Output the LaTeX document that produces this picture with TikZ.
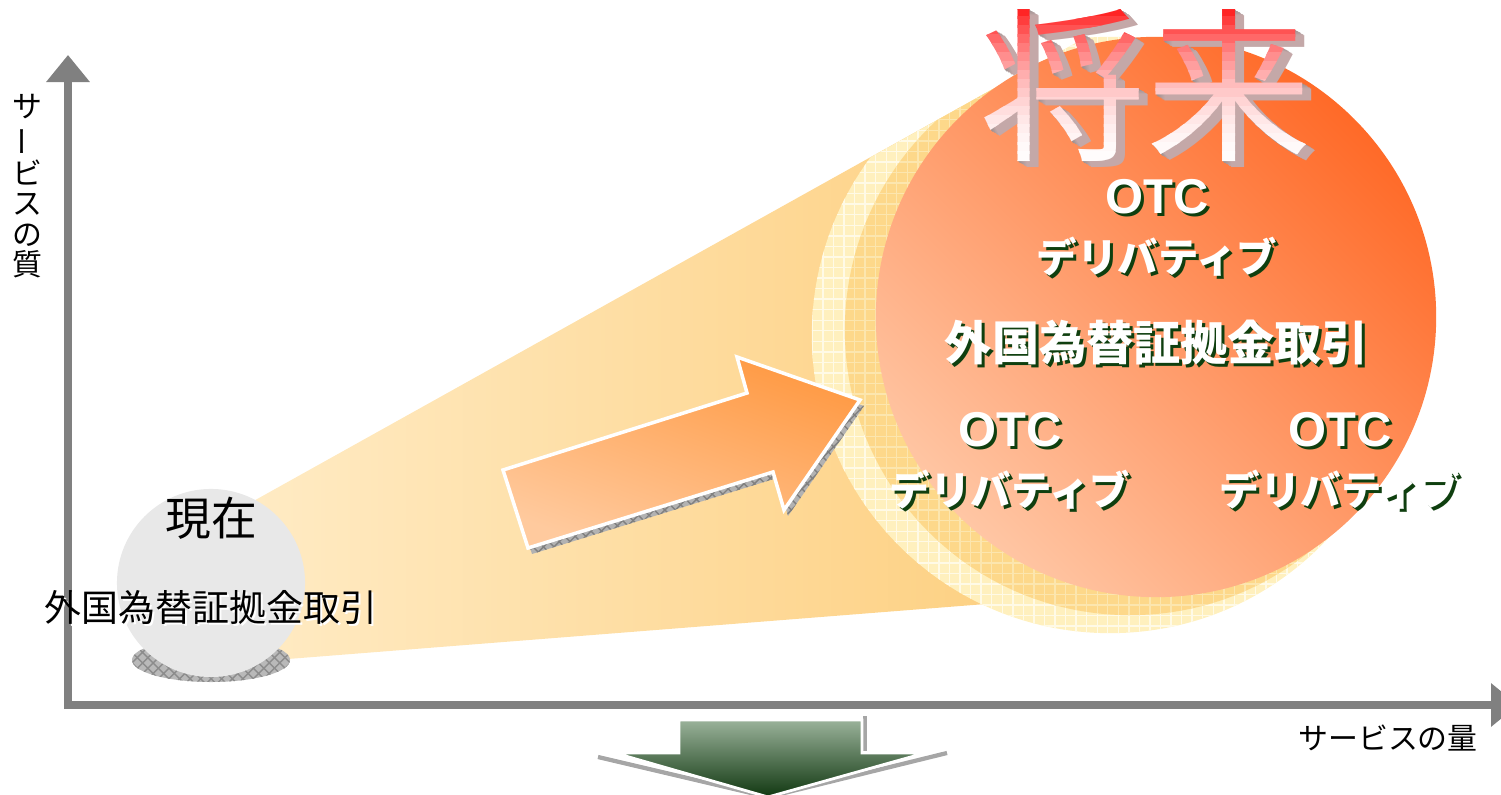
\documentclass[tikz,border=0pt]{standalone}
\usepackage{fontspec}
\usepackage{graphicx}
\setmainfont{Liberation Sans}
\newfontfamily\jp{Noto Sans CJK JP}
\usetikzlibrary{arrows.meta,patterns}
\definecolor{axisgray}{HTML}{808080}
\definecolor{fanleft}{HTML}{FFEBC4}
\definecolor{fanright}{HTML}{FDCD7A}
\definecolor{paleyellow}{HTML}{FFF0BE}
\definecolor{palegrid}{HTML}{FFFAE6}
\definecolor{ringyellow}{HTML}{FDD88A}
\definecolor{ringgrid}{HTML}{FCE6AE}
\definecolor{sunlight}{HTML}{FFC6A4}
\definecolor{sundark}{HTML}{FF6A28}
\definecolor{arrowlight}{HTML}{FFCA9E}
\definecolor{arrowdark}{HTML}{FF9A44}
\definecolor{leaftop}{HTML}{9AB29A}
\definecolor{leafbottom}{HTML}{113811}
\definecolor{rimgreen}{HTML}{0F3F0F}
\definecolor{extrude}{HTML}{C9ABAB}
\definecolor{nowgray}{HTML}{E8E8E8}

% white text with a dark rim, or black text with a white one
\newcommand{\rimtext}[4]{%
  \node[#3, rim #3] at (#2) {#4};
  \node[#3] (#1) at (#2) {#4};}

\begin{document}
\begin{tikzpicture}[x=0.01cm, y=-0.01cm,
  axis/.style={draw=axisgray, line width=2.3pt, -{Triangle[length=0.27cm,width=0.42cm]}},
  axislabel/.style={font=\jp\fontsize{8.5}{8.65}\selectfont, inner sep=0},
  otc/.style={font=\fontsize{13.9}{14}\selectfont\bfseries, text=white, inner sep=0},
  kata/.style={font=\jp\fontsize{11.5}{12}\selectfont\bfseries, text=white, inner sep=0},
  fxbig/.style={font=\jp\fontsize{13.4}{14}\selectfont\bfseries, text=white, inner sep=0},
  fxsmall/.style={font=\jp\fontsize{10.5}{11}\selectfont, text=black, inner sep=0},
  rim otc/.style={text=rimgreen, shift={(3,3)}},
  rim kata/.style={text=rimgreen, shift={(3,3)}},
  rim fxbig/.style={text=rimgreen, shift={(3,3)}},
  rim fxsmall/.style={text=white, shift={(2,2)}},
  future/.style={font=\jp\fontsize{47}{48}\selectfont, inner sep=0}]
\useasboundingbox (0,0) rectangle (1501,795);

% fan from now to the future
\shade[left color=fanleft, right color=fanright]
  (250,503) -- (1000,85) -- (1100,595) -- (250,662) -- cycle;

% rings behind the big circle, only below the fan's upper edge
\begin{scope}
  \clip (250,503) -- (1203,-28) -- (1501,-28) -- (1501,795) -- (250,795) -- cycle;
  \fill[paleyellow] (1110,335) circle[radius=2.98cm];
  \fill[pattern=grid, pattern color=palegrid] (1110,335) circle[radius=2.98cm];
  \fill[ringyellow] (1130,330) circle[radius=2.85cm];
  \fill[pattern=grid, pattern color=ringgrid] (1130,330) circle[radius=2.85cm];
\end{scope}
\shade[top color=sundark, bottom color=sunlight, shading angle=-45]
  (1156,317) circle[radius=2.8cm];

% today
\fill[gray!55] (211,660) ellipse[x radius=0.79cm, y radius=0.22cm];
\fill[pattern=crosshatch, pattern color=gray!90] (211,660) ellipse[x radius=0.79cm, y radius=0.22cm];
\fill[nowgray] (211,583) circle[radius=0.94cm];

% growth arrow
\fill[gray!60] (507,476) -- (532,554) -- (777,478) -- (788,516) -- (864,406)
  -- (741,363) -- (751,399) -- cycle;
\fill[pattern=crosshatch, pattern color=gray] (507,476) -- (532,554) -- (777,478)
  -- (788,516) -- (864,406) -- (741,363) -- (751,399) -- cycle;
\shadedraw[draw=white, line width=1pt, top color=arrowdark, bottom color=arrowlight,
  shading angle=-20]
  (503,470) -- (528,548) -- (773,472) -- (784,510) -- (860,400)
  -- (737,357) -- (747,393) -- cycle;

% axes
\coordinate (yfoot) at (68,709);
\coordinate (ytip) at (68,55);
\coordinate (xfoot) at (64,705);
\coordinate (xtip) at (1518,705);
\draw[axis] (yfoot) -- (ytip);
\draw[axis] (xfoot) -- (xtip);

% arrow down
\draw[gray!70, line width=1.2pt] (598,757) -- (768,797) -- (947,753);
\draw[gray!70, line width=1.2pt] (865,716) -- (865,751);
\shadedraw[draw=white, line width=0.8pt, top color=leaftop, bottom color=leafbottom]
  (679,720) -- (862,720) -- (862,753) -- (925,753) -- (768,797)
  -- (615,753) -- (679,753) -- cycle;

% labels
\node[axislabel, align=center] (quality) at (27,186)
  {サ\\\rotatebox[origin=c]{90}{ー}\\ビ\\ス\\の\\質};
\node[axislabel] (quantity) at (1388,738) {サービスの量};

\node[font=\jp\fontsize{13}{14}\selectfont, inner sep=0] (now) at (211,518) {現在};
\rimtext{nowfx}{211,607}{fxsmall}{外国為替証拠金取引}

\rimtext{otctop}{1157,197}{otc}{OTC}
\rimtext{katatop}{1157,257}{kata}{デリバティブ}
\rimtext{fxfuture}{1157,343}{fxbig}{外国為替証拠金取引}
\rimtext{otcleft}{1010,430}{otc}{OTC}
\rimtext{katableft}{1010,490}{kata}{デリバティブ}
\rimtext{otcright}{1340,430}{otc}{OTC}
\rimtext{kataright}{1340,490}{kata}{デリバティブ}

% the future, extruded and shaded red to white
\foreach \d in {1,...,9}
  \node[future, text=extrude!\d0!gray!70!extrude] (depth\d) at (1146+\d,86+0.6*\d) {将来};
\foreach \i in {0,...,19} {
  \pgfmathsetmacro\c{95*(1-\i/19)^2}
  \begin{scope}
    \clip (900,\i*9-1) rectangle (1350,\i*9+10);
    \node[future, text=red!\c!white] (future\i) at (1146,86) {将来};
  \end{scope}
}
\end{tikzpicture}
\end{document}
